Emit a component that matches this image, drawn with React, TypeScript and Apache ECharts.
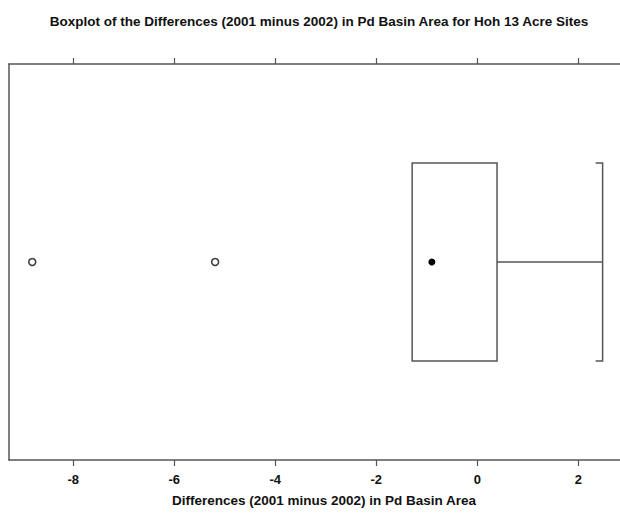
import React, { useEffect, useRef } from "react";
import * as echarts from "echarts";

const titleText =
  "Boxplot of the Differences (2001 minus 2002) in Pd Basin Area for Hoh 13 Acre Sites";
const axisTitle = "Differences (2001 minus 2002) in Pd Basin Area";
const categories = ["Hoh 13 Acre Sites"];
const whiskerLow = [-1.29];
const q1 = [-1.29];
const median = [-0.9];
const q3 = [0.39];
const whiskerHigh = [2.48];
const outliers = [-8.81, -5.19];
const xTicks = [-8, -6, -4, -2, 0, 2];

const LINE = "#555555";
const FONT = "Liberation Sans, Arial, sans-serif";

export default function App() {
  const ref = useRef<HTMLDivElement>(null);
  useEffect(() => {
    if (!ref.current) return;
    const chart = echarts.init(ref.current, undefined, { renderer: "svg" });
    const boxData = categories.map((_, i) => [
      i,
      whiskerLow[i],
      q1[i],
      median[i],
      q3[i],
      whiskerHigh[i],
    ]);
    const option: any = {
      animation: false,
      backgroundColor: "#ffffff",
      title: {
        text: titleText,
        left: 314,
        top: 9,
        textAlign: "center",
        textStyle: { fontFamily: FONT, fontSize: 13.5, fontWeight: "bold", color: "#111" },
      },
      grid: { left: 9, right: 21, top: 64, bottom: 59 },
      xAxis: [
        {
          type: "value",
          position: "bottom",
          min: -9.27,
          max: 3.2,
          splitLine: { show: false },
          axisLine: { show: true, onZero: false, lineStyle: { color: LINE, width: 1.5 } },
          axisTick: {
            show: true,
            inside: false,
            length: 6,
            customValues: xTicks,
            lineStyle: { color: LINE, width: 1.2 },
          },
          axisLabel: {
            show: true,
            customValues: xTicks,
            margin: 13,
            fontFamily: FONT,
            fontSize: 13,
            fontWeight: "bold",
            color: "#111",
          },
          name: axisTitle,
          nameLocation: "middle",
          nameGap: 33,
          nameTextStyle: { fontFamily: FONT, fontSize: 13.5, fontWeight: "bold", color: "#111" },
        },
        {
          type: "value",
          position: "top",
          min: -9.27,
          max: 3.2,
          splitLine: { show: false },
          axisLine: { show: true, onZero: false, lineStyle: { color: LINE, width: 1.5 } },
          axisTick: {
            show: true,
            inside: false,
            length: 6,
            customValues: xTicks,
            lineStyle: { color: LINE, width: 1.2 },
          },
          axisLabel: { show: false },
        },
      ],
      yAxis: {
        type: "category",
        data: categories,
        axisLine: { show: true, onZero: false, lineStyle: { color: LINE, width: 1.5 } },
        axisTick: { show: false },
        axisLabel: { show: false },
        splitLine: { show: false },
      },
      series: [
        {
          type: "custom",
          xAxisIndex: 0,
          encode: { x: [1, 2, 3, 4, 5], y: 0 },
          data: boxData,
          renderItem: (params: any, api: any) => {
            const cat = api.value(0);
            const lo = api.coord([api.value(1), cat]);
            const b1 = api.coord([api.value(2), cat]);
            const b3 = api.coord([api.value(4), cat]);
            const hi = api.coord([api.value(5), cat]);
            const band = api.size([0, 1])[1];
            const half = band * 0.25;
            const cy = b1[1];
            const st = { stroke: LINE, lineWidth: 1.5, fill: "none" };
            const capEnd = 7;
            return {
              type: "group",
              children: [
                {
                  type: "rect",
                  shape: { x: b1[0], y: cy - half, width: b3[0] - b1[0], height: half * 2 },
                  style: { ...st },
                },
                {
                  type: "line",
                  shape: { x1: b3[0], y1: cy, x2: hi[0], y2: cy },
                  style: { ...st },
                },
                {
                  type: "polyline",
                  shape: {
                    points: [
                      [hi[0] - capEnd, cy - half],
                      [hi[0], cy - half],
                      [hi[0], cy + half],
                      [hi[0] - capEnd, cy + half],
                    ],
                  },
                  style: { ...st },
                },
                {
                  type: "line",
                  shape: { x1: lo[0], y1: cy, x2: b1[0], y2: cy },
                  style: { ...st },
                },
              ],
            };
          },
        },
        {
          type: "scatter",
          name: "median",
          data: median.map((m, i) => [m, i]),
          symbol: "circle",
          symbolSize: 7,
          itemStyle: { color: "#000", opacity: 1 },
        },
        {
          type: "scatter",
          name: "outliers",
          data: outliers.map((v) => [v, 0]),
          symbol: "circle",
          symbolSize: 7,
          itemStyle: { color: "#fff", borderColor: "#444", borderWidth: 1.6, opacity: 1 },
        },
      ],
    };
    chart.setOption(option);
    return () => chart.dispose();
  }, []);
  return (
    <div
      style={{
        position: "absolute",
        left: 0,
        top: 0,
        width: 620,
        height: 519,
        overflow: "hidden",
        background: "#fff",
      }}
    >
      <div ref={ref} style={{ width: 660, height: 519 }} />
    </div>
  );
}
